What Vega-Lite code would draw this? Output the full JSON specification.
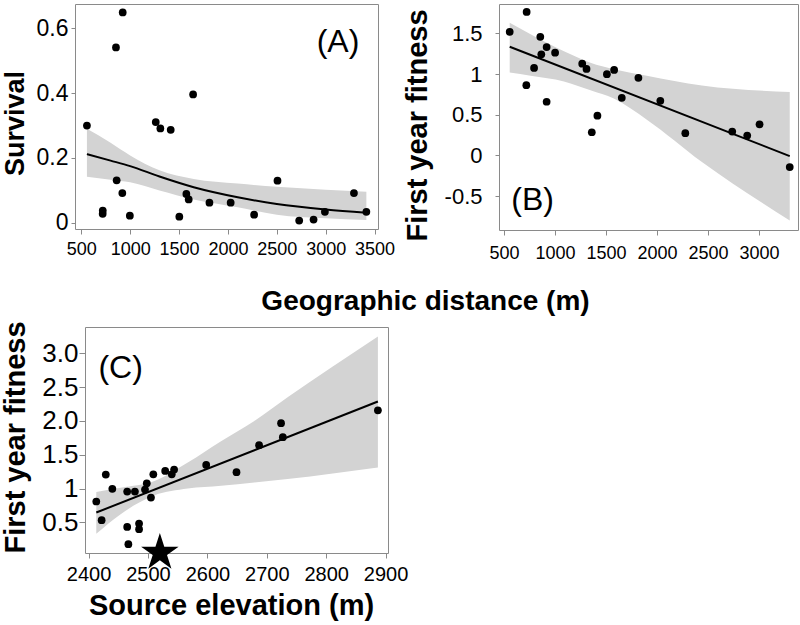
{
  "$schema": "https://vega.github.io/schema/vega-lite/v6.json",
  "background": "white",
  "padding": {"left": 0, "top": 3, "right": 0, "bottom": 0},
  "config": {
    "font": "Liberation Sans",
    "view": {"stroke": "#8a8a8a", "strokeWidth": 1},
    "axis": {
      "domain": false, "grid": false, "tickColor": "#8a8a8a", "tickSize": 5,
      "labelColor": "black", "titleColor": "black", "labelFont": "Liberation Sans",
      "titleFont": "Liberation Sans", "titleFontWeight": "bold",
      "labelFlush": false, "labelOverlap": false, "labelBound": false
    }
  },
  "datasets": {
    "a_pts": [
      {"dist": 558, "surv": 0.300}, {"dist": 924, "surv": 0.649}, {"dist": 855, "surv": 0.541},
      {"dist": 1644, "surv": 0.396}, {"dist": 1262, "surv": 0.311}, {"dist": 1309, "surv": 0.291},
      {"dist": 1415, "surv": 0.287}, {"dist": 862, "surv": 0.131}, {"dist": 920, "surv": 0.092},
      {"dist": 720, "surv": 0.038}, {"dist": 719, "surv": 0.028}, {"dist": 997, "surv": 0.022},
      {"dist": 1503, "surv": 0.019}, {"dist": 1575, "surv": 0.089}, {"dist": 1599, "surv": 0.072},
      {"dist": 1811, "surv": 0.062}, {"dist": 2028, "surv": 0.062}, {"dist": 2268, "surv": 0.025},
      {"dist": 2507, "surv": 0.130}, {"dist": 2729, "surv": 0.007}, {"dist": 2876, "surv": 0.010},
      {"dist": 2992, "surv": 0.034}, {"dist": 3289, "surv": 0.092}, {"dist": 3416, "surv": 0.034}
    ],
    "a_fit": [
      {"dist": 558, "fit": 0.212, "lo": 0.142, "hi": 0.290},
      {"dist": 800, "fit": 0.192, "lo": 0.133, "hi": 0.247},
      {"dist": 1000, "fit": 0.175, "lo": 0.125, "hi": 0.208},
      {"dist": 1300, "fit": 0.143, "lo": 0.100, "hi": 0.162},
      {"dist": 1650, "fit": 0.110, "lo": 0.072, "hi": 0.135},
      {"dist": 2100, "fit": 0.079, "lo": 0.048, "hi": 0.121},
      {"dist": 2500, "fit": 0.058, "lo": 0.025, "hi": 0.111},
      {"dist": 3000, "fit": 0.041, "lo": 0.014, "hi": 0.102},
      {"dist": 3416, "fit": 0.031, "lo": 0.009, "hi": 0.096}
    ],
    "b_pts": [
      {"dist": 555, "fit": 1.52}, {"dist": 721, "fit": 1.764}, {"dist": 855, "fit": 1.458},
      {"dist": 917, "fit": 1.333}, {"dist": 865, "fit": 1.243}, {"dist": 1000, "fit": 1.263},
      {"dist": 794, "fit": 1.076}, {"dist": 718, "fit": 0.864}, {"dist": 917, "fit": 0.660},
      {"dist": 1266, "fit": 1.128}, {"dist": 1308, "fit": 1.064}, {"dist": 1508, "fit": 0.999},
      {"dist": 1579, "fit": 1.051}, {"dist": 1654, "fit": 0.709}, {"dist": 1817, "fit": 0.954},
      {"dist": 1415, "fit": 0.489}, {"dist": 1360, "fit": 0.285}, {"dist": 2032, "fit": 0.672},
      {"dist": 2277, "fit": 0.273}, {"dist": 2737, "fit": 0.293}, {"dist": 2884, "fit": 0.244},
      {"dist": 3005, "fit": 0.383}, {"dist": 3301, "fit": -0.143}
    ],
    "b_line": [
      {"dist": 555, "fit": 1.336}, {"dist": 3301, "fit": -0.008}
    ],
    "b_band": [
      {"dist": 555, "lo": 1.02, "hi": 1.63},
      {"dist": 760, "lo": 0.98, "hi": 1.49},
      {"dist": 1087, "lo": 0.91, "hi": 1.28},
      {"dist": 1347, "lo": 0.80, "hi": 1.14},
      {"dist": 1576, "lo": 0.70, "hi": 1.06},
      {"dist": 1900, "lo": 0.44, "hi": 0.98},
      {"dist": 2440, "lo": -0.08, "hi": 0.86},
      {"dist": 3301, "lo": -0.80, "hi": 0.78}
    ],
    "c_pts": [
      {"elev": 2413, "fit": 0.808}, {"elev": 2422, "fit": 0.531}, {"elev": 2429, "fit": 1.207},
      {"elev": 2440, "fit": 0.995}, {"elev": 2465, "fit": 0.955}, {"elev": 2478, "fit": 0.955},
      {"elev": 2465, "fit": 0.432}, {"elev": 2467, "fit": 0.176}, {"elev": 2485, "fit": 0.482},
      {"elev": 2485, "fit": 0.398}, {"elev": 2495, "fit": 0.985}, {"elev": 2498, "fit": 1.078},
      {"elev": 2505, "fit": 0.867}, {"elev": 2509, "fit": 1.211}, {"elev": 2529, "fit": 1.260},
      {"elev": 2540, "fit": 1.211}, {"elev": 2544, "fit": 1.281}, {"elev": 2598, "fit": 1.349},
      {"elev": 2649, "fit": 1.241}, {"elev": 2687, "fit": 1.641}, {"elev": 2724, "fit": 1.966},
      {"elev": 2727, "fit": 1.759}, {"elev": 2887, "fit": 2.158}
    ],
    "c_line": [
      {"elev": 2413, "fit": 0.645}, {"elev": 2887, "fit": 2.287}
    ],
    "c_band": [
      {"elev": 2413, "lo": 0.33, "hi": 0.95},
      {"elev": 2454, "lo": 0.62, "hi": 1.01},
      {"elev": 2511, "lo": 0.90, "hi": 1.11},
      {"elev": 2567, "lo": 1.00, "hi": 1.385},
      {"elev": 2623, "lo": 1.04, "hi": 1.70},
      {"elev": 2679, "lo": 1.09, "hi": 2.00},
      {"elev": 2735, "lo": 1.14, "hi": 2.35},
      {"elev": 2887, "lo": 1.31, "hi": 3.25}
    ]
  },
  "spacing": 4,
  "vconcat": [
    {
      "hconcat": [
        {
          "width": 303, "height": 225,
          "layer": [
            {
              "data": {"name": "a_fit"},
              "mark": {"type": "area", "color": "#d3d3d3", "interpolate": "monotone"},
              "encoding": {
                "x": {"field": "dist", "type": "quantitative",
                  "scale": {"domain": [436, 3535], "nice": false, "zero": false},
                  "axis": {"values": [500, 1000, 1500, 2000, 2500, 3000, 3500], "format": "d",
                    "labelFontSize": 18, "labelPadding": 6,
                    "title": "Geographic distance (m)", "titleFontSize": 28,
                    "titleX": 350, "titleY": 80, "titleBaseline": "alphabetic"}},
                "y": {"field": "hi", "type": "quantitative",
                  "scale": {"domain": [-0.019, 0.675], "nice": false, "zero": false},
                  "axis": {"values": [0, 0.1, 0.2, 0.3, 0.4, 0.5, 0.6],
                    "labelExpr": "datum.value == 0 ? '0' : format(datum.value, '.1f')",
                    "labelFontSize": 23, "labelPadding": 3, "tickSize": 4,
                    "title": "Survival", "titleFontSize": 27, "titlePadding": 7, "titleY": 119}},
                "y2": {"field": "lo"}
              }
            },
            {
              "data": {"name": "a_fit"},
              "mark": {"type": "line", "color": "black", "strokeWidth": 2, "interpolate": "monotone"},
              "encoding": {
                "x": {"field": "dist", "type": "quantitative"},
                "y": {"field": "fit", "type": "quantitative"}
              }
            },
            {
              "data": {"name": "a_pts"},
              "mark": {"type": "point", "filled": true, "color": "black", "opacity": 1, "size": 60},
              "encoding": {
                "x": {"field": "dist", "type": "quantitative"},
                "y": {"field": "surv", "type": "quantitative"}
              }
            },
            {
              "data": {"values": [{"label": "(A)"}]},
              "mark": {"type": "text", "fontSize": 32, "color": "black", "align": "center", "baseline": "alphabetic"},
              "encoding": {
                "x": {"datum": 3126, "type": "quantitative"},
                "y": {"datum": 0.528, "type": "quantitative"},
                "text": {"field": "label"}
              }
            }
          ]
        },
        {
          "width": 299, "height": 226,
          "layer": [
            {
              "data": {"name": "b_band"},
              "mark": {"type": "area", "color": "#d3d3d3", "interpolate": "monotone"},
              "encoding": {
                "x": {"field": "dist", "type": "quantitative",
                  "scale": {"domain": [450, 3382], "nice": false, "zero": false},
                  "axis": {"values": [500, 1000, 1500, 2000, 2500, 3000], "format": "d",
                    "labelFontSize": 18, "labelPadding": 9, "title": null}},
                "y": {"field": "hi", "type": "quantitative",
                  "scale": {"domain": [-0.917, 1.862], "nice": false, "zero": false},
                  "axis": {"values": [-0.5, 0, 0.5, 1, 1.5],
                    "labelExpr": "datum.value < 0 ? '-' + format(-datum.value, '~g') : format(datum.value, '~g')",
                    "labelFontSize": 22, "labelPadding": 13, "tickSize": 4,
                    "title": "First year fitness", "titleFontSize": 29, "titlePadding": 12, "titleY": 121}},
                "y2": {"field": "lo"}
              }
            },
            {
              "data": {"name": "b_line"},
              "mark": {"type": "line", "color": "black", "strokeWidth": 2},
              "encoding": {
                "x": {"field": "dist", "type": "quantitative"},
                "y": {"field": "fit", "type": "quantitative"}
              }
            },
            {
              "data": {"name": "b_pts"},
              "mark": {"type": "point", "filled": true, "color": "black", "opacity": 1, "size": 60},
              "encoding": {
                "x": {"field": "dist", "type": "quantitative"},
                "y": {"field": "fit", "type": "quantitative"}
              }
            },
            {
              "data": {"values": [{"label": "(B)"}]},
              "mark": {"type": "text", "fontSize": 32, "color": "black", "align": "center", "baseline": "alphabetic"},
              "encoding": {
                "x": {"datum": 780, "type": "quantitative"},
                "y": {"datum": -0.672, "type": "quantitative"},
                "text": {"field": "label"}
              }
            }
          ]
        }
      ],
      "spacing": 121,
      "bounds": "flush"
    },
    {
      "hconcat": [
        {
          "width": 10, "height": 226,
          "data": {"values": []},
          "mark": "point",
          "encoding": {},
          "view": {"stroke": null}
        },
        {
          "width": 303, "height": 226,
          "layer": [
            {
              "data": {"name": "c_band"},
              "mark": {"type": "area", "color": "#d3d3d3", "interpolate": "monotone"},
              "encoding": {
                "x": {"field": "elev", "type": "quantitative",
                  "scale": {"domain": [2394, 2904], "nice": false, "zero": false},
                  "axis": {"values": [2400, 2500, 2600, 2700, 2800, 2900], "format": "d",
                    "labelFontSize": 20, "labelPadding": 6, "tickSize": 5,
                    "title": "Source elevation (m)", "titleFontSize": 29,
                    "titleX": 146, "titleY": 61, "titleBaseline": "alphabetic"}},
                "y": {"field": "hi", "type": "quantitative",
                  "scale": {"domain": [0.046, 3.39], "nice": false, "zero": false},
                  "axis": {"values": [0.5, 1, 1.5, 2, 2.5, 3],
                    "labelExpr": "datum.value == 1 ? '1' : format(datum.value, '.1f')",
                    "labelFontSize": 26, "labelPadding": 1, "tickSize": 6,
                    "title": "First year fitness", "titleFontSize": 29, "titlePadding": 11, "titleY": 110}},
                "y2": {"field": "lo"}
              }
            },
            {
              "data": {"name": "c_line"},
              "mark": {"type": "line", "color": "black", "strokeWidth": 2},
              "encoding": {
                "x": {"field": "elev", "type": "quantitative"},
                "y": {"field": "fit", "type": "quantitative"}
              }
            },
            {
              "data": {"name": "c_pts"},
              "mark": {"type": "point", "filled": true, "color": "black", "opacity": 1, "size": 60},
              "encoding": {
                "x": {"field": "elev", "type": "quantitative"},
                "y": {"field": "fit", "type": "quantitative"}
              }
            },
            {
              "data": {"values": [{"label": "garden"}]},
              "mark": {"type": "point", "filled": true, "color": "black", "opacity": 1, "size": 1550,
                "shape": "M0,-1L0.2245,-0.309L0.951,-0.309L0.363,0.118L0.588,0.809L0,0.382L-0.588,0.809L-0.363,0.118L-0.951,-0.309L-0.2245,-0.309Z"},
              "encoding": {
                "x": {"datum": 2520, "type": "quantitative"},
                "y": {"datum": 0.05, "type": "quantitative"}
              }
            },
            {
              "data": {"values": [{"label": "(C)"}]},
              "mark": {"type": "text", "fontSize": 32, "color": "black", "align": "center", "baseline": "alphabetic"},
              "encoding": {
                "x": {"datum": 2454, "type": "quantitative"},
                "y": {"datum": 2.642, "type": "quantitative"},
                "text": {"field": "label"}
              }
            }
          ]
        }
      ],
      "spacing": 0,
      "bounds": "flush"
    }
  ]
}
